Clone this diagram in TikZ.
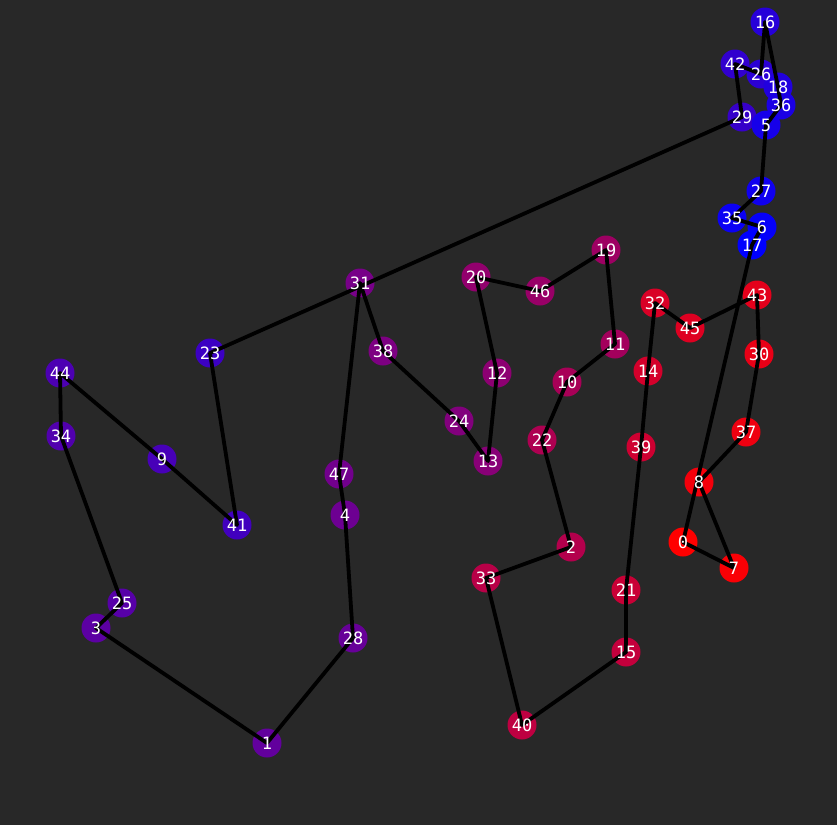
\documentclass[tikz,border=0pt]{standalone}
\usepackage{fontspec}
\newfontfamily\monof{DejaVu Sans Mono}
\definecolor{bg}{RGB}{40,40,40}
\begin{document}
\begin{tikzpicture}[x=1pt,y=-1pt,
  dot/.style={circle,inner sep=0pt,minimum size=29pt},
  edge/.style={line width=3.8pt,black,line join=round},
  lbl/.style={text=white,font=\monof\fontsize{17}{17}\selectfont,inner sep=0pt}]
\fill[bg] (0,0) rectangle (837,825);
\useasboundingbox (0,0) rectangle (837,825);
% nodes in tour order; colour runs from red to blue along the tour
\foreach \n/\x/\y [count=\i from 0] in {
  0/683/542, 7/734/568, 8/699/482, 37/746/432, 30/759/354, 43/757/295,
  45/690/328, 32/655/303, 14/648/371, 39/641/447, 21/626/590, 15/626/652,
  40/522/725, 33/486/578, 2/571/547, 22/542/440, 10/567/382, 11/615/344,
  19/606/250, 46/540/291, 20/476/277, 12/497/373, 13/488/461, 24/459/421,
  38/383/351, 31/360/283, 47/339/474, 4/345/515, 28/353/638, 1/267/743,
  3/96/628, 25/122/603, 34/61/436, 44/60/373, 9/162/459, 41/237/525,
  23/210/353, 29/742/117, 42/735/64, 26/761/74, 16/765/22, 18/778/87,
  36/781/105, 5/766/125, 27/761/191, 35/732/218, 6/762/227, 17/752/245} {
  \pgfmathtruncatemacro\r{round(255*(47-\i)/47)}
  \pgfmathtruncatemacro\b{255-\r}
  \definecolor{cc}{RGB}{\r,0,\b}
  \node[dot,fill=cc] (c\n) at (\x,\y) {};
}
\draw[edge] (c0.center) -- (c7.center) -- (c8.center) -- (c37.center)
  -- (c30.center) -- (c43.center) -- (c45.center) -- (c32.center)
  -- (c14.center) -- (c39.center) -- (c21.center) -- (c15.center)
  -- (c40.center) -- (c33.center) -- (c2.center) -- (c22.center)
  -- (c10.center) -- (c11.center) -- (c19.center) -- (c46.center)
  -- (c20.center) -- (c12.center) -- (c13.center) -- (c24.center)
  -- (c38.center) -- (c31.center) -- (c47.center) -- (c4.center)
  -- (c28.center) -- (c1.center) -- (c3.center) -- (c25.center)
  -- (c34.center) -- (c44.center) -- (c9.center) -- (c41.center)
  -- (c23.center) -- (c29.center) -- (c42.center) -- (c26.center)
  -- (c16.center) -- (c18.center) -- (c36.center) -- (c5.center)
  -- (c27.center) -- (c35.center) -- (c6.center) -- (c17.center)
  -- cycle;
\foreach \n in {0,7,8,37,30,43,45,32,14,39,21,15,40,33,2,22,10,11,19,46,20,
  12,13,24,38,31,47,4,28,1,3,25,34,44,9,41,23,29,42,26,16,18,36,5,27,35,6,17}
  \node[lbl] (t\n) at (c\n.center) {\n};
\end{tikzpicture}
\end{document}
